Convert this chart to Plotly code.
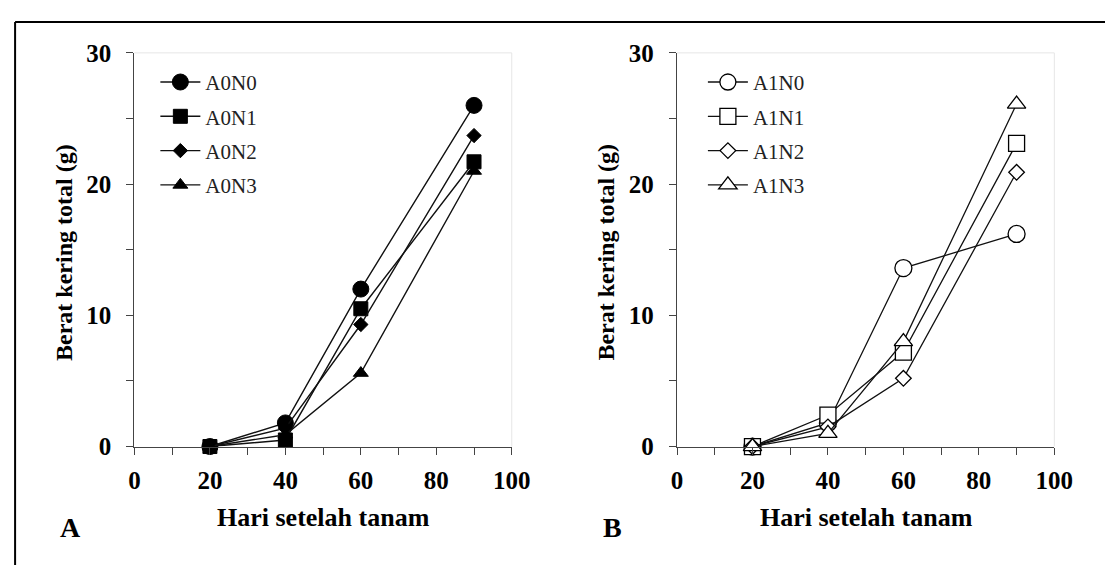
import plotly.graph_objects as go

days = [20, 40, 60, 90]

# Panel A
a_names = ["A0N0", "A0N1", "A0N2", "A0N3"]
a0n0 = [0.0, 1.8, 12.0, 26.0]
a0n1 = [0.0, 0.5, 10.5, 21.7]
a0n2 = [0.0, 1.4, 9.3, 23.7]
a0n3 = [0.0, 0.9, 5.6, 21.0]

# Panel B
b_names = ["A1N0", "A1N1", "A1N2", "A1N3"]
a1n0 = [0.0, 1.8, 13.6, 16.2]
a1n1 = [0.0, 2.4, 7.2, 23.1]
a1n2 = [0.0, 1.5, 5.2, 20.9]
a1n3 = [0.0, 1.0, 8.0, 26.1]

x_tickvals = [0, 10, 20, 30, 40, 50, 60, 70, 80, 90, 100]
x_ticktext = ["0", "", "20", "", "40", "", "60", "", "80", "", "100"]
y_tickvals = [0, 5, 10, 15, 20, 25, 30]
y_ticktext = ["0", "", "10", "", "20", "", "30"]

x_title = "Hari setelah tanam"
y_title = "Berat kering total (g)"

FONT = "Liberation Serif"
W, H = 1116, 571

# observed placement of the page in the picture: img = off + scale * paper_px
SX, OX = 0.982, 12.0
SY, OY = 0.956, 20.0


def px(v):
    return ((v - OX) / SX) / W


def py(v):
    return 1 - ((v - OY) / SY) / H


fig = go.Figure()

a_series = [a0n0, a0n1, a0n2, a0n3]
a_symbols = ["circle", "square", "diamond", "triangle-up"]
a_sizes = [16, 14, 11, 13]
for name, vals, sym, sz in zip(a_names, a_series, a_symbols, a_sizes):
    fig.add_trace(go.Scatter(
        x=days, y=vals, name=name, mode="lines+markers", legendgroup=name,
        line=dict(color="#111", width=1.4),
        marker=dict(symbol=sym, size=sz, color="black", line=dict(color="black", width=1)),
        cliponaxis=False, xaxis="x", yaxis="y", legend="legend",
    ))

b_series = [a1n0, a1n1, a1n2, a1n3]
b_symbols = ["circle", "square", "diamond", "triangle-up"]
b_sizes = [17, 16, 12, 16]
for name, vals, sym, sz in zip(b_names, b_series, b_symbols, b_sizes):
    fig.add_trace(go.Scatter(
        x=days, y=vals, name=name, mode="lines+markers", legendgroup=name,
        line=dict(color="#111", width=1.3),
        marker=dict(symbol=sym, size=sz, color="white",
                    line=dict(color="black", width=1.3)),
        cliponaxis=False, xaxis="x2", yaxis="y2", legend="legend2",
    ))

ydom = [py(447), py(52)]
xdomA = [px(133), px(512)]
xdomB = [px(678), px(1057)]

tickfont = dict(family=FONT, size=25, color="black", weight="bold")
common_x = dict(
    range=[0, 100], tickvals=x_tickvals, ticktext=x_ticktext,
    ticks="outside", ticklen=7, tickcolor="#444", showline=True, linecolor="#444",
    linewidth=1.3, showgrid=False, zeroline=False, tickfont=tickfont,
    ticklabelstandoff=4,
)
common_y = dict(
    range=[0, 30], tickvals=y_tickvals, ticktext=y_ticktext,
    ticks="outside", ticklen=7, tickcolor="#444", showline=True, linecolor="#444",
    linewidth=1.3, showgrid=False, zeroline=False, tickfont=tickfont,
    ticklabelstandoff=10,
)

legfont = dict(family=FONT, size=21, color="#222")
fig.update_layout(
    width=W, height=H,
    margin=dict(l=0, r=0, t=0, b=0),
    paper_bgcolor="white", plot_bgcolor="white",
    font=dict(family=FONT, color="black"),
    xaxis=dict(domain=xdomA, anchor="y", **common_x),
    yaxis=dict(domain=ydom, anchor="x", **common_y),
    xaxis2=dict(domain=xdomB, anchor="y2", **common_x),
    yaxis2=dict(domain=ydom, anchor="x2", **common_y),
    legend=dict(x=px(154), y=py(61), xanchor="left", yanchor="top",
                bgcolor="rgba(0,0,0,0)", font=legfont,
                tracegroupgap=4, itemwidth=40),
    legend2=dict(x=px(704), y=py(61), xanchor="left", yanchor="top",
                 bgcolor="rgba(0,0,0,0)", font=legfont,
                 tracegroupgap=4, itemwidth=40),
    showlegend=True,
)

shapes = []
for xd in (xdomA, xdomB):
    shapes.append(dict(type="line", xref="paper", yref="paper",
                       x0=xd[0], x1=xd[1], y0=ydom[1], y1=ydom[1],
                       line=dict(color="#e6e6e6", width=1)))
    shapes.append(dict(type="line", xref="paper", yref="paper",
                       x0=xd[1], x1=xd[1], y0=ydom[0], y1=ydom[1],
                       line=dict(color="#e6e6e6", width=1)))
# outer frame: top and left edges
shapes.append(dict(type="line", xref="paper", yref="paper",
                   x0=0.001, x1=1, y0=0.998, y1=0.998,
                   line=dict(color="black", width=2)))
shapes.append(dict(type="line", xref="paper", yref="paper",
                   x0=0.001, x1=0.001, y0=0, y1=0.998,
                   line=dict(color="black", width=2)))
fig.update_layout(shapes=shapes)

ann = []
for cx in (323, 868):
    ann.append(dict(text=x_title, x=px(cx), y=py(518), xref="paper", yref="paper",
                    showarrow=False, xanchor="center", yanchor="middle",
                    font=dict(family=FONT, size=26, color="black", weight="bold")))
for cx in (62, 607):
    ann.append(dict(text=y_title, x=px(cx), y=py(252), xref="paper", yref="paper",
                    showarrow=False, xanchor="center", yanchor="middle", textangle=-90,
                    font=dict(family=FONT, size=24, color="black", weight="bold")))
for txt, cx in (("A", 69), ("B", 613)):
    ann.append(dict(text=txt, x=px(cx), y=py(528), xref="paper", yref="paper",
                    showarrow=False, xanchor="center", yanchor="middle",
                    font=dict(family=FONT, size=28, color="black", weight="bold")))
fig.update_layout(annotations=ann)

fig.write_html("out.html", config={"displayModeBar": False})
